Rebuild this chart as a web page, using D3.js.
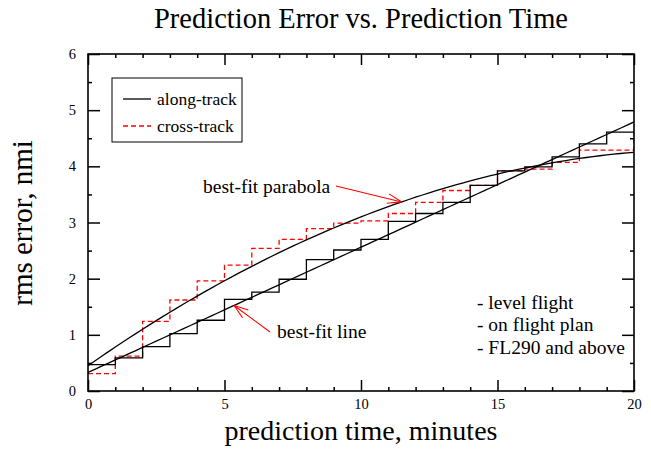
<!DOCTYPE html>
<html>
<head>
<meta charset="utf-8">
<script src="https://cdn.jsdelivr.net/npm/d3@7"></script>
<style>
  body { margin: 0; background: #fff; }
  svg { display: block; font-family: "Liberation Serif", "Times New Roman", serif; }
</style>
</head>
<body>
<div class="container"></div>
<script>
// step values, one per minute interval [i, i+1]
const minutes = d3.range(0, 20);
const alongTrack = [0.47, 0.59, 0.79, 1.02, 1.26, 1.63, 1.76, 1.99, 2.34, 2.51,
                    2.70, 3.02, 3.16, 3.36, 3.66, 3.92, 3.99, 4.17, 4.40, 4.61];
const crossTrack = [0.31, 0.62, 1.24, 1.62, 1.96, 2.24, 2.54, 2.70, 2.89, 2.99,
                    3.03, 3.16, 3.36, 3.57, 3.66, 3.92, 3.95, 4.07, 4.29, 4.29];
const crossTrackEnd = 4.66;
// fit coefficients: a + b*t (+ c*t^2)
const lineCoef = [0.33, 0.223];
const parabolaCoef = [0.45, 0.34, -0.0075];
const xMajorTicks = [0, 5, 10, 15, 20];
const yMajorTicks = [0, 1, 2, 3, 4, 5, 6];
const notes = ["- level flight", "- on flight plan", "- FL290 and above"];

const w = 651, h = 449;
const svg = d3.select(".container").append("svg")
    .attr("width", w).attr("height", h);

const x = d3.scaleLinear().domain([0, 20]).range([88, 634]);
const y = d3.scaleLinear().domain([0, 6]).range([391, 54]);

// title and axis labels
svg.append("text").attr("x", 361).attr("y", 28)
    .attr("text-anchor", "middle").attr("font-size", 28.5)
    .text("Prediction Error vs. Prediction Time");
svg.append("text").attr("x", 361).attr("y", 440)
    .attr("text-anchor", "middle").attr("font-size", 28)
    .text("prediction time, minutes");
svg.append("text").attr("transform", "translate(32,223) rotate(-90)")
    .attr("text-anchor", "middle").attr("font-size", 29)
    .text("rms error, nmi");

// clipped plot area
svg.append("clipPath").attr("id", "clip").append("rect")
    .attr("x", 88).attr("y", 54).attr("width", 546).attr("height", 337);
const plot = svg.append("g").attr("clip-path", "url(#clip)");

const step = d3.line().x(d => x(d[0])).y(d => y(d[1])).curve(d3.curveStepAfter);
const alongPts = minutes.map((m, i) => [m, alongTrack[i]]).concat([[20, alongTrack[19]]]);
const crossPts = minutes.map((m, i) => [m, crossTrack[i]]).concat([[20, crossTrackEnd]]);

plot.append("path").attr("d", step(crossPts))
    .attr("fill", "none").attr("stroke", "#ff0000").attr("stroke-width", 1.3)
    .attr("stroke-dasharray", "5,3");
plot.append("path").attr("d", step(alongPts))
    .attr("fill", "none").attr("stroke", "#000").attr("stroke-width", 1.3);

const ts = d3.range(0, 20.01, 0.25);
const lineFit = t => lineCoef[0] + lineCoef[1] * t;
const parabolaFit = t => parabolaCoef[0] + parabolaCoef[1] * t + parabolaCoef[2] * t * t;
const smooth = d3.line().x(d => x(d[0])).y(d => y(d[1]));
plot.append("path").attr("d", smooth(ts.map(t => [t, lineFit(t)])))
    .attr("fill", "none").attr("stroke", "#000").attr("stroke-width", 1.3);
plot.append("path").attr("d", smooth(ts.map(t => [t, parabolaFit(t)])))
    .attr("fill", "none").attr("stroke", "#000").attr("stroke-width", 1.3);

// axes: ticks drawn inward on all four sides
function addAxis(axis, tf, vals, size, labels) {
    const g = svg.append("g").attr("transform", tf)
        .call(axis.tickValues(vals).tickSize(-size).tickPadding(labels ? labels : 0)
            .tickFormat(labels ? d3.format("d") : ""));
    g.select(".domain").remove();
    g.selectAll("line").attr("stroke", "#000").attr("stroke-width", 1.5);
    g.selectAll("text").attr("font-size", 14.5).attr("font-family", "Liberation Serif, serif").attr("fill", "#000");
    return g;
}
const xMinor = d3.range(0, 21).filter(v => v % 5 !== 0);
const yMinor = d3.range(0.5, 6, 1);
addAxis(d3.axisBottom(x), "translate(0,391)", xMajorTicks, 11, 8);
addAxis(d3.axisBottom(x), "translate(0,391)", xMinor, 4);
addAxis(d3.axisTop(x), "translate(0,54)", xMajorTicks, 11);
addAxis(d3.axisTop(x), "translate(0,54)", xMinor, 4);
addAxis(d3.axisLeft(y), "translate(88,0)", yMajorTicks, 12, 12);
addAxis(d3.axisLeft(y), "translate(88,0)", yMinor, 4);
addAxis(d3.axisRight(y), "translate(634,0)", yMajorTicks, 12);
addAxis(d3.axisRight(y), "translate(634,0)", yMinor, 4);

svg.append("rect").attr("x", 88).attr("y", 54).attr("width", 546).attr("height", 337)
    .attr("fill", "none").attr("stroke", "#000").attr("stroke-width", 1.6);

// legend
const legend = svg.append("g");
legend.append("rect").attr("x", 112).attr("y", 78).attr("width", 130).attr("height", 64)
    .attr("fill", "#fff").attr("stroke", "#000").attr("stroke-width", 1);
[["along-track", "#000", null, 99], ["cross-track", "#ff0000", "5,3", 126]].forEach(d => {
    legend.append("line").attr("x1", 123).attr("x2", 151).attr("y1", d[3]).attr("y2", d[3])
        .attr("stroke", d[1]).attr("stroke-width", 1.3).attr("stroke-dasharray", d[2]);
    legend.append("text").attr("x", 157).attr("y", d[3] + 5.5)
        .attr("font-size", 17.5).text(d[0]);
});

// annotations with open arrowheads
function arrow(x1, y1, x2, y2) {
    const g = svg.append("g").attr("stroke", "#ff0000").attr("stroke-width", 1.1).attr("fill", "none");
    g.append("line").attr("x1", x1).attr("y1", y1).attr("x2", x2).attr("y2", y2);
    const a = Math.atan2(y1 - y2, x1 - x2);
    [0.33, -0.33].forEach(da => {
        g.append("line").attr("x1", x2).attr("y1", y2)
            .attr("x2", x2 + 15 * Math.cos(a + da)).attr("y2", y2 + 15 * Math.sin(a + da));
    });
}
svg.append("text").attr("x", 203).attr("y", 193).attr("font-size", 19.5).text("best-fit parabola");
arrow(336, 186, x(11.49), y(parabolaFit(11.49)));
svg.append("text").attr("x", 277).attr("y", 338).attr("font-size", 19.5).text("best-fit line");
arrow(270, 332, x(5.35), y(lineFit(5.35)));

notes.forEach((n, i) => {
    svg.append("text").attr("x", 477).attr("y", 309 + i * 22.4)
        .attr("font-size", 19.5).text(n);
});
</script>
</body>
</html>
